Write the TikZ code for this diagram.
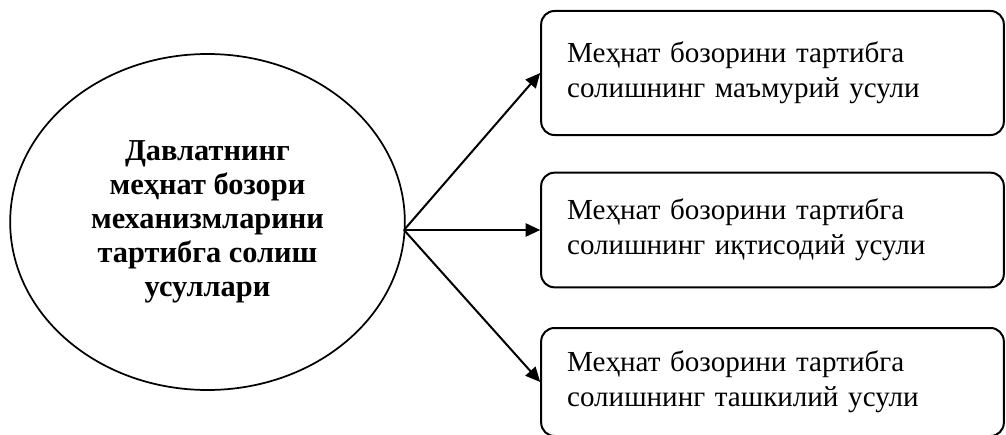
\documentclass[tikz,border=0pt]{standalone}
\usepackage{fontspec}
\setmainfont{Liberation Serif}
\usetikzlibrary{shapes.geometric,arrows.meta}

\begin{document}
\begin{tikzpicture}[x=0.75pt, y=-0.75pt, line width=1.5pt,
    method/.style={draw, rectangle, rounded corners=10pt, align=left,
        text width=308pt, inner xsep=19.5pt, inner ysep=0pt},
    ->, >={Triangle[length=11pt, width=10pt]}]
    \useasboundingbox (0, 0) rectangle (1006, 435);
    \fontsize{21.8}{26}\selectfont

    % Node on the left
    \node[ellipse, draw, line width=1.3pt, inner sep=0pt,
        minimum width=296pt, minimum height=252pt, align=center,
        font=\fontsize{22.8}{25.5}\selectfont\bfseries] (state) at (207.5, 222)
        {Давлатнинг\\меҳнат бозори\\механизмларини\\тартибга солиш\\усуллари};

    % Nodes on the right
    \node[method, minimum height=93pt] (adm) at (772.5, 73)
        {Меҳнат бозорини тартибга\\солишнинг маъмурий усули};
    \node[method, minimum height=86pt] (eco) at (772.5, 230)
        {Меҳнат бозорини тартибга\\солишнинг иқтисодий усули};
    \node[method, minimum height=81pt] (org) at (772.5, 382)
        {Меҳнат бозорини тартибга\\солишнинг ташкилий усули};

    % Edges
    \coordinate (hub) at (404, 230);
    \draw (hub) -- (adm.west);
    \draw (hub) -- (eco.west);
    \draw (hub) -- (org.west);
\end{tikzpicture}
\end{document}
